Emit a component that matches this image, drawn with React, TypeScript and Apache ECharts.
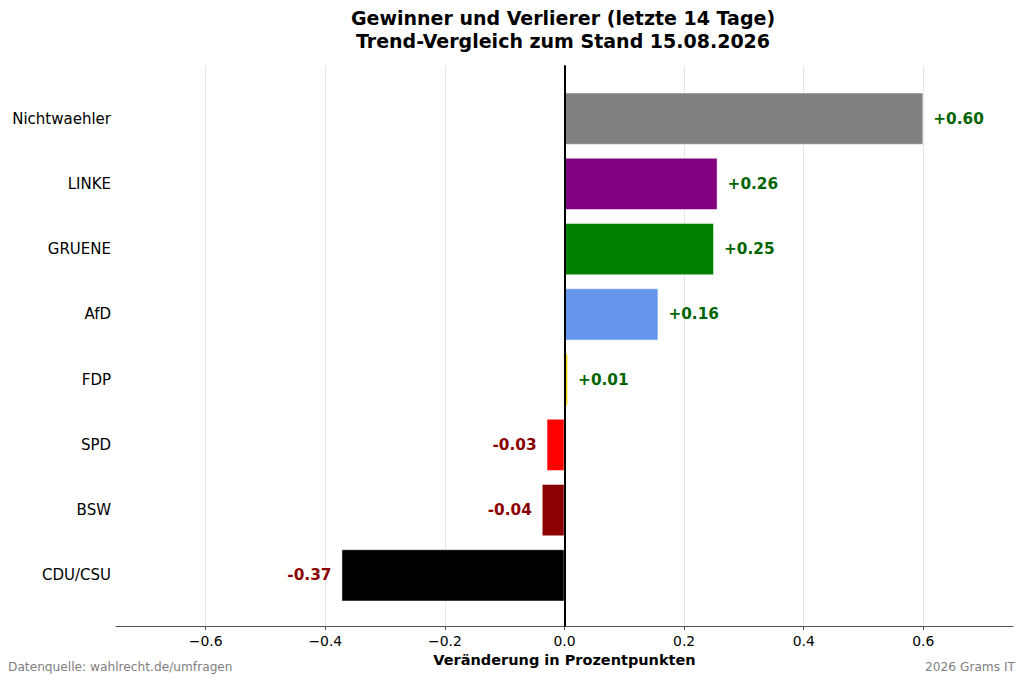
import React, { useEffect, useRef } from "react";
import * as echarts from "echarts";

const categories = ["Nichtwaehler", "LINKE", "GRUENE", "AfD", "FDP", "SPD", "BSW", "CDU/CSU"];
const changes = [0.6, 0.256, 0.25, 0.157, 0.006, -0.03, -0.038, -0.373];
const partyColors = ["#808080", "#800080", "#008000", "#6495ED", "#FFD700", "#FF0000", "#8B0000", "#000000"];
const xTicks = [-0.6, -0.4, -0.2, 0, 0.2, 0.4, 0.6];
const titleLines = ["Gewinner und Verlierer (letzte 14 Tage)", "Trend-Vergleich zum Stand 15.08.2026"];
const xAxisName = "Veränderung in Prozentpunkten";
const sourceText = "Datenquelle: wahlrecht.de/umfragen";
const creditText = "2026 Grams IT";

const FONT = "DejaVu Sans";
const X_MIN = -0.75;
const X_MAX = 0.75;

export default function App() {
  const ref = useRef<HTMLDivElement>(null);
  useEffect(() => {
    if (!ref.current) return;
    const chart = echarts.init(ref.current, null, { renderer: "svg" });
    const fmtTick = (v: number) =>
      v < 0 ? "\u2212" + Math.abs(v).toFixed(1) : v.toFixed(1);
    const option: any = {
      animation: false,
      backgroundColor: "#ffffff",
      textStyle: { fontFamily: FONT },
      title: [
        {
          text: titleLines.join("\n"),
          left: 563,
          top: 6,
          padding: 0,
          textAlign: "center",
          textStyle: { fontFamily: FONT, fontSize: 19, fontWeight: "bold", color: "#000", lineHeight: 23 },
        },
        {
          text: sourceText,
          left: 8,
          top: 661,
          padding: 0,
          textStyle: { fontFamily: FONT, fontSize: 12.2, fontWeight: "normal", color: "#808080" },
        },
        {
          text: creditText,
          right: 9,
          top: 661,
          padding: 0,
          textStyle: { fontFamily: FONT, fontSize: 12.2, fontWeight: "normal", color: "#808080" },
        },
      ],
      grid: [
        { left: 116, right: 11, top: 86, bottom: 74 },
        { left: 116, right: 11, top: 66, bottom: 56 },
      ],
      xAxis: [
        {
          gridIndex: 0,
          type: "value",
          min: X_MIN,
          max: X_MAX,
          show: false,
        },
        {
          gridIndex: 1,
          type: "value",
          min: X_MIN,
          max: X_MAX,
          position: "bottom",
          axisLine: { show: true, onZero: false, lineStyle: { color: "#555", width: 1 } },
          axisTick: { show: true, length: 4, lineStyle: { color: "#555" }, customValues: xTicks },
          axisLabel: {
            customValues: xTicks,
            formatter: fmtTick,
            fontFamily: FONT,
            fontSize: 13.9,
            color: "#000",
            margin: 8,
          },
          splitLine: { show: true, lineStyle: { color: "#e6e6e6", width: 1 } },
          name: xAxisName,
          nameLocation: "middle",
          nameGap: 26,
          nameTextStyle: { fontFamily: FONT, fontSize: 14.5, fontWeight: "bold", color: "#000" },
        },
      ],
      yAxis: [
        {
          gridIndex: 0,
          type: "category",
          data: categories,
          inverse: true,
          axisLine: { show: false },
          axisTick: { show: false },
          axisLabel: { fontFamily: FONT, fontSize: 15, color: "#000", margin: 5 },
        },
        {
          gridIndex: 1,
          type: "value",
          min: 0,
          max: 1,
          z: 10,
          axisLine: { show: true, onZero: true, lineStyle: { color: "#000", width: 2 } },
          axisTick: { show: false },
          axisLabel: { show: false },
          splitLine: { show: false },
        },
      ],
      series: [
        {
          type: "bar",
          xAxisIndex: 0,
          yAxisIndex: 0,
          barWidth: "80%",
          z: 2,
          data: changes.map((v, i) => ({
            value: v,
            itemStyle: { color: partyColors[i], borderColor: "rgba(255,255,255,0.45)", borderWidth: 1 },
            label: {
              show: true,
              position: v >= 0 ? "right" : "left",
              distance: 10,
              color: v >= 0 ? "#006400" : "#8B0000",
              fontFamily: FONT,
              fontSize: 15.3,
              fontWeight: "bold",
              formatter: () => (v >= 0 ? "+" : "") + v.toFixed(2),
            },
          })),
        },
      ],
    };
    chart.setOption(option);
    return () => chart.dispose();
  }, []);
  return <div ref={ref} style={{ width: 1024, height: 682, position: "absolute", left: 0, top: 0 }} />;
}
